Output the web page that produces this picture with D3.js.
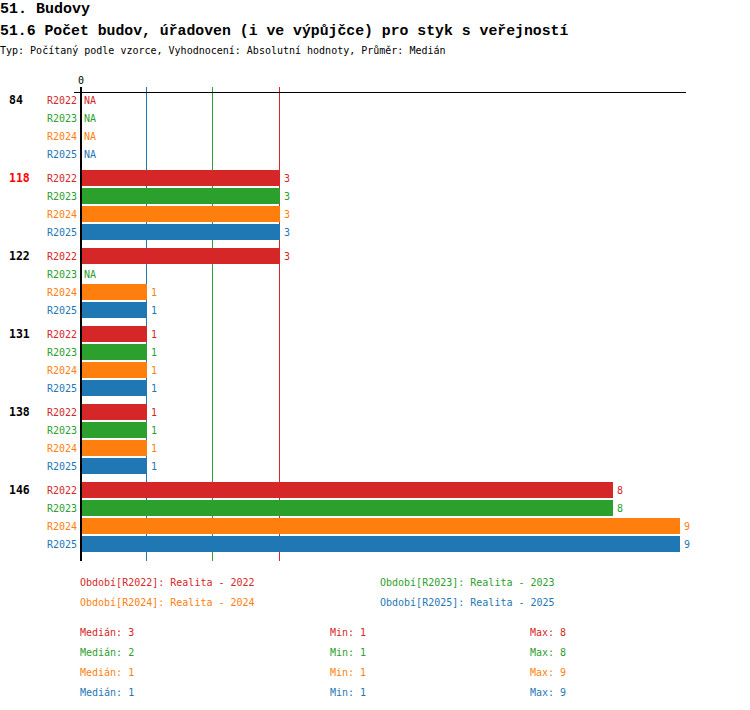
<!DOCTYPE html>
<html lang="cs">
<head>
    <meta charset="utf-8">
    <script src="https://d3js.org/d3.v7.min.js"></script>
    <style>
        body { margin: 0; background: #fff; }
        text { font-family: "DejaVu Sans Mono", "Liberation Mono", monospace; }
        text.title { font-family: "Liberation Mono", "DejaVu Sans Mono", monospace; font-weight: bold; }
    </style>
</head>
<body>
<script>

    // data
    let categories = ['84', '118', '122', '131', '138', '146'];
    let highlighted = '118';
    let periods = ['R2022', 'R2023', 'R2024', 'R2025'];
    let periodNames = ['Realita - 2022', 'Realita - 2023', 'Realita - 2024', 'Realita - 2025'];
    let colors = ['#d62728', '#2ca02c', '#ff7f0e', '#1f77b4'];
    let values = {
        R2022: [null, 3, 3, 1, 1, 8],
        R2023: [null, 3, null, 1, 1, 8],
        R2024: [null, 3, 1, 1, 1, 9],
        R2025: [null, 3, 1, 1, 1, 9]
    };
    let xTicks = [0];

    let svg = d3.select('body').append('svg')
        .attr('width', 750).attr('height', 710);

    // headings
    svg.append('text').attr('class', 'title').attr('x', 0).attr('y', 13)
        .style('font-size', '15px')
        .text('51. Budovy');
    svg.append('text').attr('class', 'title').attr('x', 0).attr('y', 35)
        .style('font-size', '14.8px')
        .text('51.6 Počet budov, úřadoven (i ve výpůjčce) pro styk s veřejností');
    svg.append('text').attr('x', 0).attr('y', 54)
        .style('font-size', '10px')
        .text('Typ: Počítaný podle vzorce, Vyhodnocení: Absolutní hodnoty, Průměr: Medián');

    let maxVal = d3.max(periods, function (p) { return d3.max(values[p]); });
    let x = d3.scaleLinear().domain([0, maxVal]).range([80, 680]);

    let groupStep = 78, rowStep = 18, firstRow = 100;
    let rowY = function (gi, pi) { return firstRow + gi * groupStep + pi * rowStep; };

    // median lines
    let stats = periods.map(function (p, i) {
        let v = values[p].filter(function (d) { return d !== null; });
        return {period: p, color: colors[i], median: d3.median(v), min: d3.min(v), max: d3.max(v)};
    });
    svg.append('g').selectAll('line')
        .data(stats)
        .enter().append('line')
        .attr('x1', function (d) { return Math.round(x(d.median)) - 0.5; })
        .attr('x2', function (d) { return Math.round(x(d.median)) - 0.5; })
        .attr('y1', 87).attr('y2', 561)
        .attr('stroke', function (d) { return d.color; })
        .attr('stroke-width', 1);

    // top axis line and tick label
    svg.append('line').attr('x1', 74).attr('x2', 686)
        .attr('y1', 92.5).attr('y2', 92.5)
        .attr('stroke', '#000').attr('stroke-width', 1.2);
    svg.append('g').selectAll('text').data(xTicks).enter().append('text')
        .attr('x', function (d) { return x(d) + 1; }).attr('y', 84)
        .attr('text-anchor', 'middle').style('font-size', '10px')
        .text(function (d) { return d; });

    // rows
    let rows = [];
    categories.forEach(function (c, gi) {
        periods.forEach(function (p, pi) {
            rows.push({cat: c, gi: gi, pi: pi, period: p, value: values[p][gi], color: colors[pi]});
        });
    });

    svg.append('g').selectAll('rect')
        .data(rows.filter(function (d) { return d.value !== null; }))
        .enter().append('rect')
        .attr('x', x(0))
        .attr('y', function (d) { return rowY(d.gi, d.pi) - 8; })
        .attr('width', function (d) { return Math.round(x(d.value)) - x(0); })
        .attr('height', 16)
        .attr('fill', function (d) { return d.color; });

    svg.append('g').selectAll('text')
        .data(rows)
        .enter().append('text')
        .attr('x', function (d) { return d.value === null ? x(0) + 4 : Math.round(x(d.value)) + 4; })
        .attr('y', function (d) { return rowY(d.gi, d.pi) + 4; })
        .style('font-size', '10px')
        .attr('fill', function (d) { return d.color; })
        .text(function (d) { return d.value === null ? 'NA' : d.value; });

    svg.append('g').selectAll('text')
        .data(rows)
        .enter().append('text')
        .attr('x', 77)
        .attr('y', function (d) { return rowY(d.gi, d.pi) + 4; })
        .attr('text-anchor', 'end')
        .style('font-size', '10px')
        .attr('fill', function (d) { return d.color; })
        .text(function (d) { return d.period; });

    svg.append('g').selectAll('text')
        .data(categories)
        .enter().append('text')
        .attr('x', 9)
        .attr('y', function (d, i) { return rowY(i, 0) + 4; })
        .style('font-size', '11.5px').style('font-weight', 'bold')
        .attr('fill', function (d) { return d === highlighted ? '#ff0000' : '#000'; })
        .text(function (d) { return d; });

    // vertical zero axis
    svg.append('line').attr('x1', x(0) + 1).attr('x2', x(0) + 1)
        .attr('y1', 87).attr('y2', 561)
        .attr('stroke', '#000').attr('stroke-width', 2);

    // legend
    svg.append('g').selectAll('text')
        .data(periods)
        .enter().append('text')
        .attr('x', function (d, i) { return i % 2 === 0 ? 80 : 380; })
        .attr('y', function (d, i) { return 586 + Math.floor(i / 2) * 20; })
        .style('font-size', '10px')
        .attr('fill', function (d, i) { return colors[i]; })
        .text(function (d, i) { return 'Období[' + d + ']: ' + periodNames[i]; });

    let statRows = svg.append('g').selectAll('g')
        .data(stats)
        .enter().append('g')
        .attr('fill', function (d) { return d.color; })
        .style('font-size', '10px');
    statRows.append('text').attr('x', 80)
        .attr('y', function (d, i) { return 636 + i * 20; })
        .text(function (d) { return 'Medián: ' + d.median; });
    statRows.append('text').attr('x', 330)
        .attr('y', function (d, i) { return 636 + i * 20; })
        .text(function (d) { return 'Min: ' + d.min; });
    statRows.append('text').attr('x', 530)
        .attr('y', function (d, i) { return 636 + i * 20; })
        .text(function (d) { return 'Max: ' + d.max; });

</script>
</body>
</html>
